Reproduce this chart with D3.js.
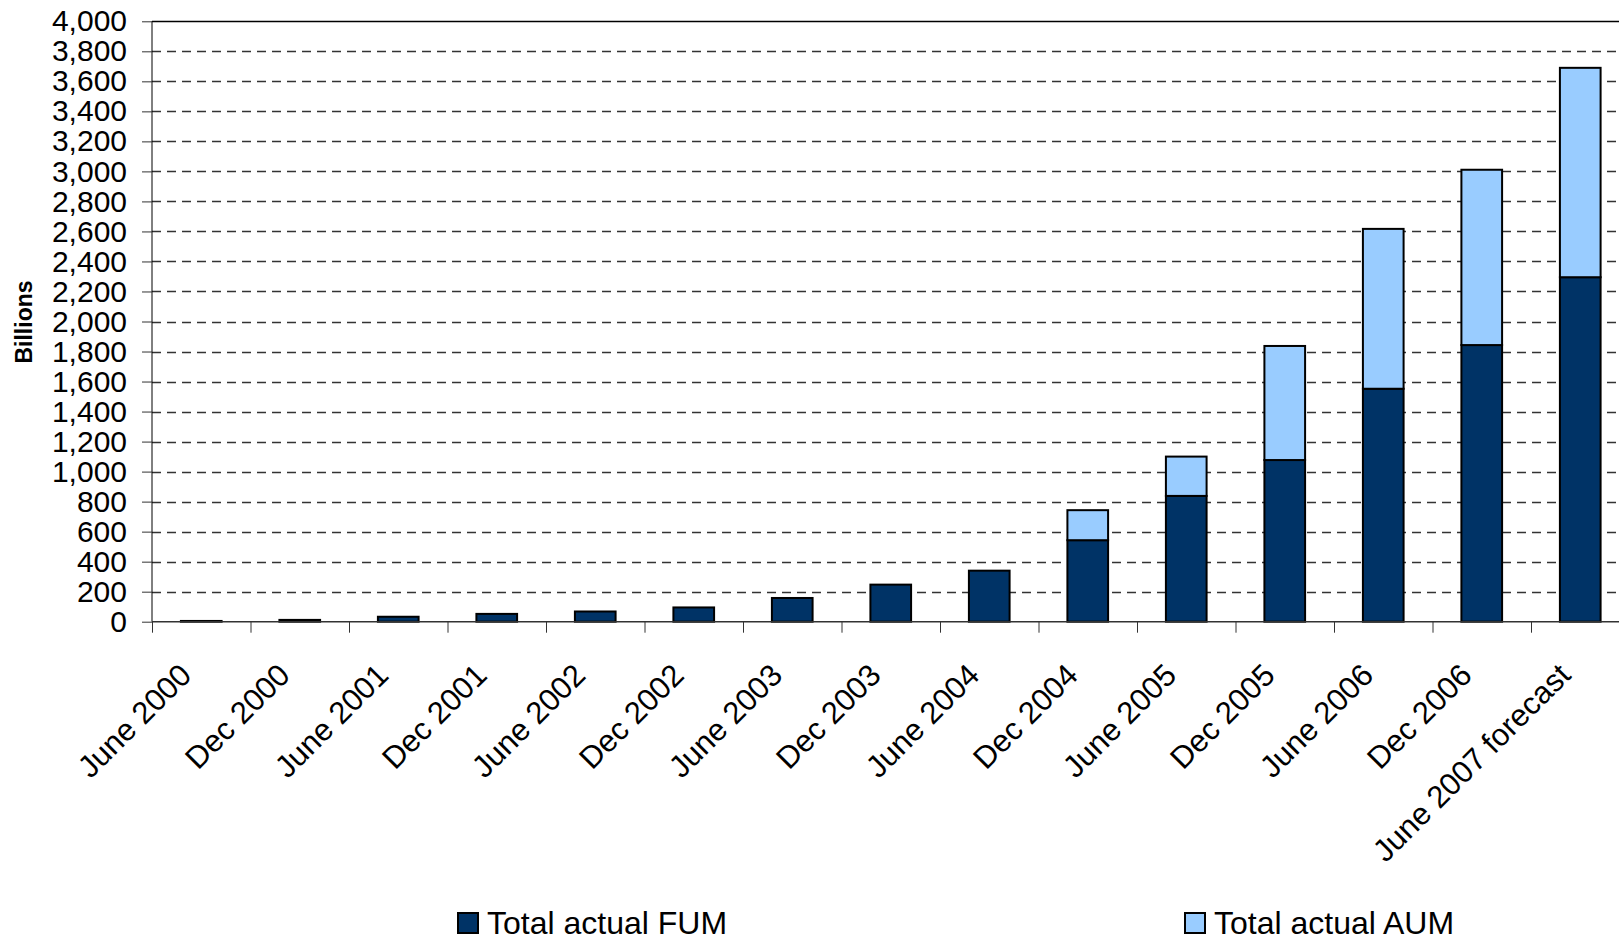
<!DOCTYPE html>
<html>
<head>
<meta charset="utf-8">
<script src="https://cdn.jsdelivr.net/npm/d3@7"></script>
<style>
  body { margin: 0; background: #fff; }
  svg { display: block; font-family: "Liberation Sans", Arial, sans-serif; }
</style>
</head>
<body>
<div id="chart"></div>
<script>
var categories = ['June 2000', 'Dec 2000', 'June 2001', 'Dec 2001', 'June 2002', 'Dec 2002',
  'June 2003', 'Dec 2003', 'June 2004', 'Dec 2004', 'June 2005', 'Dec 2005',
  'June 2006', 'Dec 2006', 'June 2007 forecast'];
var fumValues = [5, 12, 33, 52, 68, 95, 158, 247, 340, 543, 838, 1077, 1552, 1843, 2295];
var aumValues = [0, 0, 0, 0, 0, 0, 0, 0, 0, 200, 262, 760, 1065, 1168, 1395];
var yTicks = d3.range(0, 4001, 200);
var seriesNames = ['Total actual FUM', 'Total actual AUM'];
var seriesColors = ['#003366', '#99ccff'];

var width = 1619, height = 942;
var plotLeft = 152, plotRight = 1629.5, plotTop = 21.3, plotBottom = 621.7;

var svg = d3.select('#chart').append('svg')
  .attr('width', width)
  .attr('height', height);

var x = d3.scaleBand()
  .domain(categories)
  .range([plotLeft, plotRight])
  .paddingInner(0.587)
  .paddingOuter(0.2935);

var xEdges = d3.scaleLinear()
  .domain([0, categories.length])
  .range([plotLeft, plotRight]);

var y = d3.scaleLinear()
  .domain([0, 4000])
  .range([plotBottom, plotTop]);

// gridlines
svg.append('g')
  .selectAll('line')
  .data(yTicks.filter(function(d){ return d > 0; }))
  .enter()
  .append('line')
  .attr('x1', plotLeft)
  .attr('x2', width)
  .attr('y1', function(d){ return Math.round(y(d)) + 0.5; })
  .attr('y2', function(d){ return Math.round(y(d)) + 0.5; })
  .attr('stroke', function(d){ return d === 4000 ? '#000' : '#333'; })
  .attr('stroke-width', 1.3)
  .attr('stroke-dasharray', function(d){ return d === 4000 ? null : '9,6'; });

// stacked bars
var rows = categories.map(function(c, i){
  return { cat: c, fum: fumValues[i], aum: aumValues[i] };
});
var stack = d3.stack().keys(['fum', 'aum'])(rows);

svg.append('g')
  .selectAll('g')
  .data(stack)
  .enter()
  .append('g')
  .attr('fill', function(d, i){ return seriesColors[i]; })
  .selectAll('rect')
  .data(function(d){ return d.filter(function(p){ return p[1] - p[0] > 0; }); })
  .enter()
  .append('rect')
  .attr('x', function(d){ return x(d.data.cat); })
  .attr('width', x.bandwidth())
  .attr('y', function(d){ return y(d[1]); })
  .attr('height', function(d){ return y(d[0]) - y(d[1]); })
  .attr('stroke', '#000')
  .attr('stroke-width', 2);

// y axis
var yAxis = svg.append('g')
  .attr('transform', 'translate(' + plotLeft + ',0)')
  .call(d3.axisLeft(y).tickValues(yTicks).tickFormat(d3.format(',')).tickSize(10).tickPadding(15));
yAxis.selectAll('text').attr('font-size', 30).attr('fill', '#000').attr('font-family', '"Liberation Sans", Arial, sans-serif');
yAxis.selectAll('line').attr('stroke', '#333');
yAxis.select('.domain').attr('d', 'M0,' + plotTop + 'V' + plotBottom).attr('stroke', '#000');

// x axis with ticks on category edges
var xAxis = svg.append('g')
  .attr('transform', 'translate(0,' + plotBottom + ')')
  .call(d3.axisBottom(xEdges).tickValues(d3.range(0, categories.length + 1)).tickFormat('').tickSize(11));
xAxis.select('.domain').attr('d', 'M' + plotLeft + ',0H' + width).attr('stroke', '#333').attr('stroke-width', 1.5);
xAxis.selectAll('line').attr('stroke', '#333');

svg.append('g')
  .selectAll('text')
  .data(categories)
  .enter()
  .append('text')
  .attr('transform', function(d){
    return 'translate(' + (x(d) + x.bandwidth() / 2 - 8) + ',677) rotate(-45)';
  })
  .attr('text-anchor', 'end')
  .attr('font-size', 31)
  .attr('fill', '#000')
  .text(function(d){ return d; });

// y title
svg.append('text')
  .attr('transform', 'translate(32,322) rotate(-90)')
  .attr('text-anchor', 'middle')
  .attr('font-size', 23)
  .attr('font-weight', 'bold')
  .text('Billions');

// legend
var legendX = [458, 1185];
var legend = svg.append('g')
  .selectAll('g')
  .data(seriesNames)
  .enter()
  .append('g')
  .attr('transform', function(d, i){ return 'translate(' + legendX[i] + ',923)'; });

legend.append('rect')
  .attr('x', 0)
  .attr('y', -10)
  .attr('width', 20)
  .attr('height', 20)
  .attr('fill', function(d, i){ return seriesColors[i]; })
  .attr('stroke', '#000')
  .attr('stroke-width', 2);

legend.append('text')
  .attr('x', 29)
  .attr('y', 11)
  .attr('font-size', 32)
  .attr('fill', '#000')
  .text(function(d){ return d; });
</script>
</body>
</html>
